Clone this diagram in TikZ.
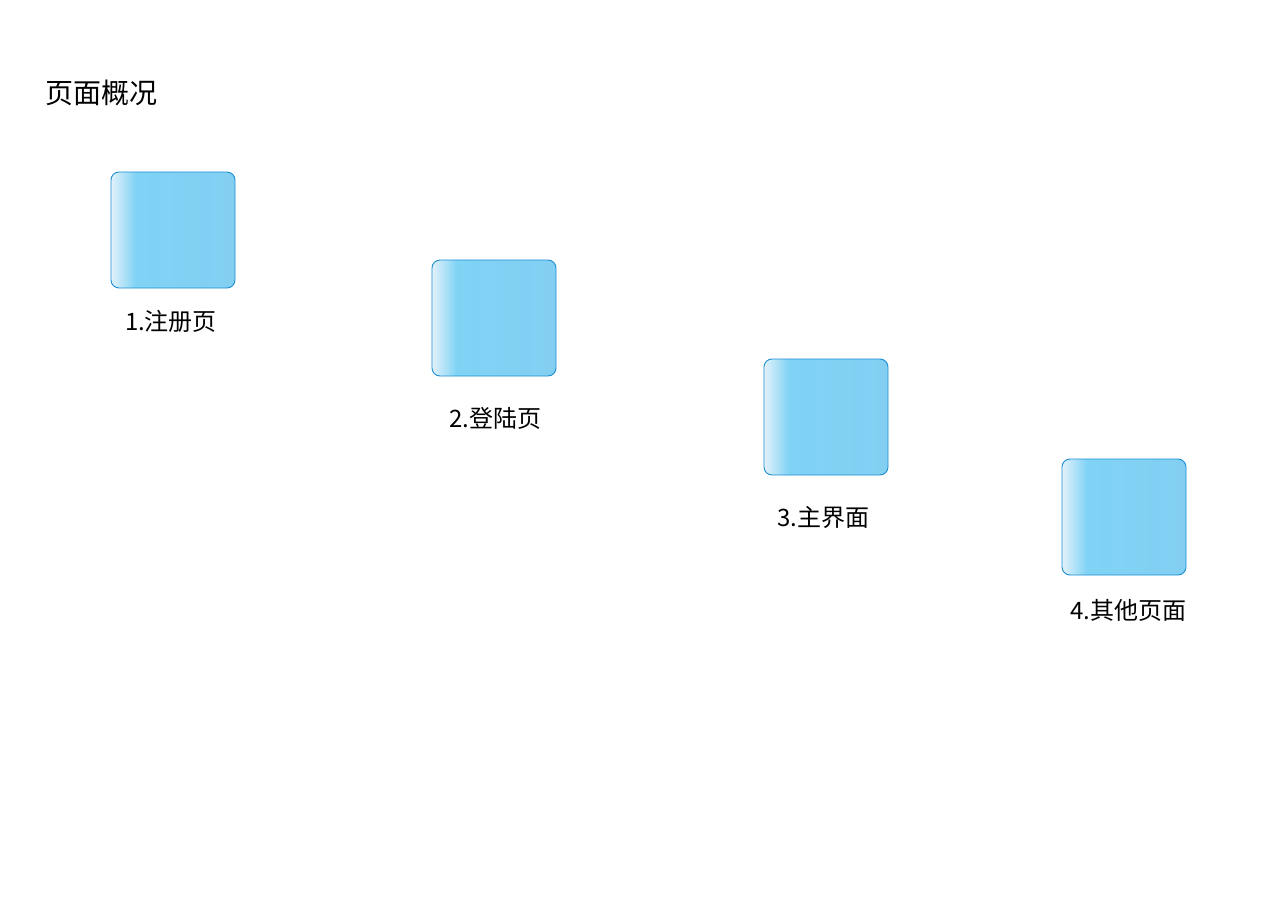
\documentclass[tikz,border=0pt]{standalone}
\usepackage{fontspec}
\setmainfont{Noto Sans CJK SC}
\usepackage{xcolor}
\usepackage{tikz}
\definecolor{boxpale}{HTML}{E2F1FA}
\definecolor{boxmid}{HTML}{80D3F5}
\definecolor{boxblue}{HTML}{82CFF2}
\definecolor{boxedge}{HTML}{1B8ED3}
\pgfdeclarehorizontalshading{pagefill}{100bp}{color(0bp)=(boxpale); color(25bp)=(boxpale); color(35bp)=(boxmid); color(75bp)=(boxblue); color(100bp)=(boxblue)}
\tikzset{
    every node/.style={font=\fontsize{24}{28}\selectfont},
    pagebox/.style={draw=boxedge, line width=0.9pt, rounded corners=8pt, shading=pagefill, minimum width=124pt, minimum height=116pt, inner sep=0pt},
    title/.style={font=\fontsize{28}{32}\selectfont, anchor=west}
}

\begin{document}
\begin{tikzpicture}[x=1pt, y=-1pt]
            \useasboundingbox[fill=white] (0,0) rectangle (1280,905);
            \node[title] (heading) at (42,93) {页面概况};

            \node[pagebox] (page1) at (173,230) {};
            \node[pagebox] (page2) at (494,318) {};
            \node[pagebox] (page3) at (826,417) {};
            \node[pagebox] (page4) at (1124,517) {};

            \node (lab1) at (171,321) {1.注册页};
            \node (lab2) at (495,418) {2.登陆页};
            \node (lab3) at (823,517) {3.主界面};
            \node (lab4) at (1128,610) {4.其他页面};
        \end{tikzpicture}
\end{document}
